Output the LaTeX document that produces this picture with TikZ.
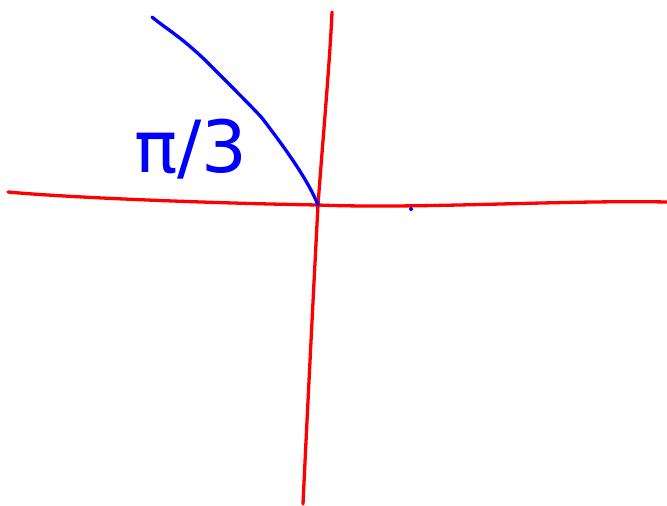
\documentclass[tikz,border=0pt]{standalone}
\usepackage{fontspec}
\newfontfamily\handfont{DejaVu Sans}

\begin{document}
\begin{tikzpicture}[x=1pt, y=-1pt,
  axis/.style={red, line width=3.3pt, line cap=round, line join=round},
  pen/.style={blue, line width=3.3pt, line cap=round, line join=round}]
  \useasboundingbox (0,0) rectangle (667,506);
  \coordinate (o) at (318,205);
  \coordinate (xl) at (8,192);
  \coordinate (xr) at (667,202);
  \coordinate (yt) at (332,12);
  \coordinate (yb) at (303,504);
  \coordinate (r) at (152,17);
  % axes
  \draw[axis] (xl) .. controls (60,197) and (200,203) .. (o)
    .. controls (420,209) and (560,200) .. (xr);
  \draw[axis] (yt) .. controls (330,60) and (322,150) .. (o)
    .. controls (312,320) and (306,440) .. (yb);
  % ray at pi/3
  \draw[pen] (r) .. controls (165,28) and (180,36) .. (205,60)
    .. controls (230,85) and (255,110) .. (262,118)
    .. controls (285,148) and (308,180) .. (o);
  \node[blue, font=\handfont\fontsize{72}{72}\selectfont] (lbl) at (191,149) {π/3};
  \fill[blue] (411,209) circle (2);
\end{tikzpicture}
\end{document}
